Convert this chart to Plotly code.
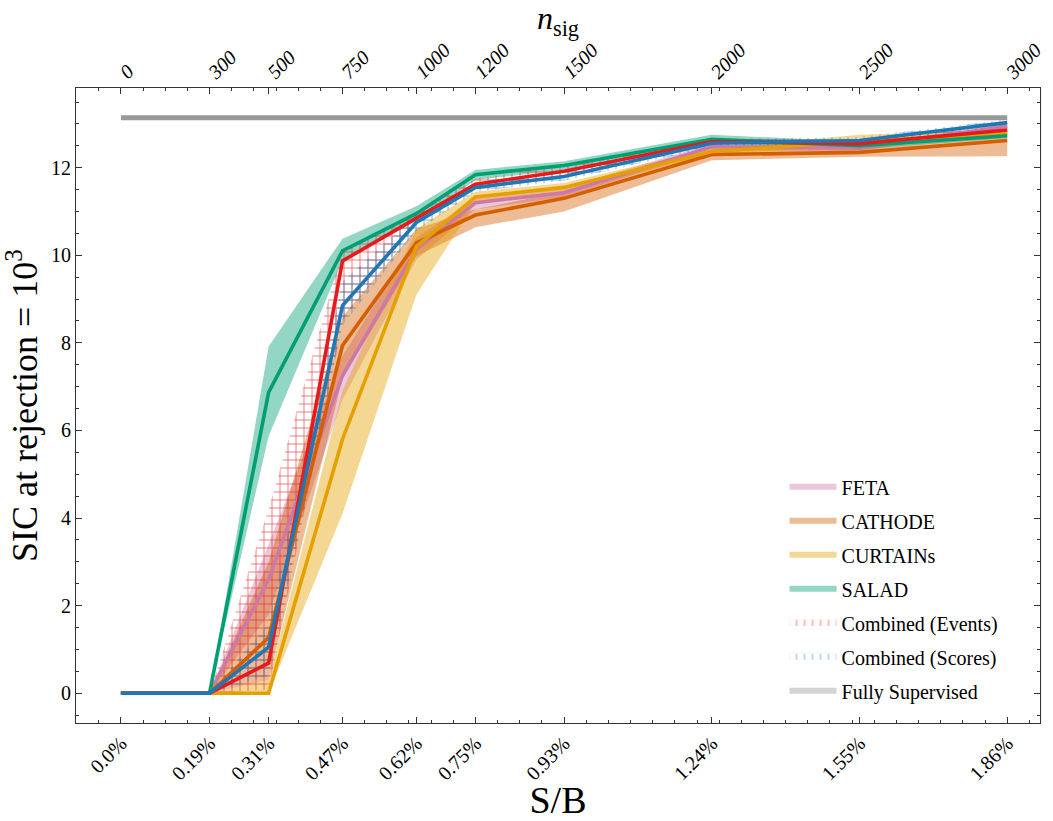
import plotly.graph_objects as go

# ---------------- data ----------------
n_sig = [0, 300, 500, 750, 1000, 1200, 1500, 2000, 2500, 3000]
sb_labels = ['0.0%', '0.19%', '0.31%', '0.47%', '0.62%', '0.75%', '0.93%', '1.24%', '1.55%', '1.86%']
nsig_labels = ['0', '300', '500', '750', '1000', '1200', '1500', '2000', '2500', '3000']

feta_mid = [0, 0, 2.6, 7.25, 10.14, 11.2, 11.43, 12.48, 12.45, 12.95]
feta_lo = [0, 0, 1.8, 6.7, 9.9, 11.05, 11.33, 12.4, 12.38, 12.88]
feta_hi = [0, 0, 3.4, 7.7, 10.4, 11.3, 11.53, 12.56, 12.52, 13.02]

cathode_mid = [0, 0, 1.27, 7.94, 10.28, 10.92, 11.3, 12.3, 12.35, 12.62]
cathode_lo = [0, 0, 0.3, 7.2, 9.98, 10.64, 11.0, 12.17, 12.25, 12.26]
cathode_hi = [0, 0, 3.0, 8.6, 10.6, 11.05, 11.45, 12.42, 12.45, 12.7]

curtains_mid = [0, 0, 0, 5.8, 10.2, 11.33, 11.55, 12.37, 12.6, 12.79]
curtains_lo = [0, 0, 0, 4.1, 9.1, 11.2, 11.45, 12.3, 12.5, 12.72]
curtains_hi = [0, 0, 0.3, 6.9, 10.6, 11.45, 11.65, 12.45, 12.75, 12.86]

salad_mid = [0, 0, 6.87, 10.1, 10.95, 11.84, 12.05, 12.65, 12.5, 12.73]
salad_lo = [0, 0, 5.87, 9.88, 10.78, 11.72, 11.95, 12.55, 12.42, 12.68]
salad_hi = [0, 0, 7.92, 10.38, 11.12, 11.95, 12.15, 12.75, 12.6, 12.8]

events_mid = [0, 0, 0.69, 9.87, 10.85, 11.62, 11.92, 12.6, 12.55, 12.86]
events_lo = [0, 0, 0.08, 8.5, 10.7, 11.5, 11.82, 12.52, 12.48, 12.78]
events_hi = [0, 0, 4.2, 10.1, 11.0, 11.75, 12.04, 12.68, 12.62, 12.94]

scores_mid = [0, 0, 1.05, 8.85, 10.75, 11.55, 11.8, 12.56, 12.62, 13.03]
scores_lo = [0, 0, 0.4, 8.4, 10.55, 11.45, 11.7, 12.48, 12.55, 12.96]
scores_hi = [0, 0, 1.6, 9.4, 10.92, 11.62, 11.88, 12.64, 12.7, 13.1]

supervised = [13.14] * len(n_sig)

FONT = "Liberation Serif"

series = [
    ("FETA", feta_mid, feta_lo, feta_hi, "#CC79A7", None),
    ("CATHODE", cathode_mid, cathode_lo, cathode_hi, "#D55E00", None),
    ("CURTAINs", curtains_mid, curtains_lo, curtains_hi, "#E69F00", None),
    ("SALAD", salad_mid, salad_lo, salad_hi, "#009E73", None),
    ("Combined (Events)", events_mid, events_lo, events_hi, "#E41A1C", "+"),
    ("Combined (Scores)", scores_mid, scores_lo, scores_hi, "#1F78B4", "+"),
]


def rgba(hexc, a):
    h = hexc.lstrip('#')
    r, g, b = int(h[0:2], 16), int(h[2:4], 16), int(h[4:6], 16)
    return f"rgba({r},{g},{b},{a})"


fig = go.Figure()

# bands
for name, mid, lo, hi, col, hatch in series:
    xs = n_sig + n_sig[::-1]
    ys = hi + lo[::-1]
    if hatch is None:
        fig.add_trace(go.Scatter(x=xs, y=ys, fill='toself', mode='none',
                                 fillcolor=rgba(col, 0.42), name=name,
                                 legendgroup=name, hoverinfo='skip'))
    else:
        fig.add_trace(go.Scatter(x=xs, y=ys, fill='toself', mode='none',
                                 fillcolor='rgba(0,0,0,0)',
                                 fillpattern=dict(shape=hatch, fgcolor=col, fgopacity=0.75,
                                                  bgcolor='rgba(0,0,0,0)', size=8,
                                                  solidity=0.18, fillmode='overlay'),
                                 name=name, legendgroup=name, hoverinfo='skip'))

# fully supervised legend patch (zero-height band)
fig.add_trace(go.Scatter(x=n_sig + n_sig[::-1], y=supervised + supervised[::-1],
                         fill='toself', mode='none',
                         fillcolor='rgba(160,160,160,0.45)', name='Fully Supervised',
                         legendgroup='sup', hoverinfo='skip'))

# lines
for name, mid, lo, hi, col, hatch in series:
    fig.add_trace(go.Scatter(x=n_sig, y=mid, mode='lines', line=dict(color=col, width=3.6),
                             showlegend=False, legendgroup=name))

fig.add_trace(go.Scatter(x=n_sig, y=supervised, mode='lines',
                         line=dict(color='#999999', width=5), showlegend=False,
                         legendgroup='sup'))

# invisible trace to activate top axis
fig.add_trace(go.Scatter(x=n_sig, y=supervised, mode='lines', xaxis='x2',
                         line=dict(width=0, color='rgba(0,0,0,0)'), showlegend=False,
                         hoverinfo='skip'))

xr = [-152, 3111]
minor_x = [v for v in range(-75, 3076, 75)]

fig.update_layout(
    width=1053, height=821,
    margin=dict(l=76, r=8, t=88, b=95),
    paper_bgcolor='white', plot_bgcolor='white',
    font=dict(family=FONT, color='black', size=20),
    showlegend=True,
    legend=dict(x=0.735, y=0.02, xanchor='left', yanchor='bottom',
                bgcolor='rgba(0,0,0,0)', font=dict(size=20, family=FONT),
                itemwidth=47, tracegroupgap=5),
    xaxis=dict(range=xr, tickmode='array', tickvals=n_sig, ticktext=sb_labels,
               tickangle=-45, ticks='inside', ticklen=6, tickcolor='#333',
               showline=True, linecolor='#333', linewidth=1, mirror=True,
               showgrid=False, zeroline=False,
               tickfont=dict(size=20, family=FONT),
               minor=dict(tickvals=minor_x, ticks='inside', ticklen=3, tickcolor='#333', showgrid=False),
               title=dict(text='S/B', font=dict(size=38, family=FONT), standoff=2)),
    xaxis2=dict(range=xr, overlaying='x', side='top', tickmode='array', tickvals=n_sig,
                ticktext=[f'<i>{t}</i>' for t in nsig_labels], tickangle=-45,
                ticks='inside', ticklen=6, tickcolor='#333', showgrid=False, zeroline=False,
                tickfont=dict(size=20, family=FONT),
                minor=dict(tickvals=minor_x, ticks='inside', ticklen=3, tickcolor='#333', showgrid=False),
                title=dict(text='<i>n</i><sub>sig</sub>', font=dict(size=32, family=FONT), standoff=2)),
    yaxis=dict(range=[-0.68, 13.82], tickmode='array', tickvals=[0, 2, 4, 6, 8, 10, 12],
               ticks='inside', ticklen=6, tickcolor='#333', showline=True, linecolor='#333',
               linewidth=1, mirror='ticks', showgrid=False, zeroline=False,
               tickfont=dict(size=20, family=FONT),
               minor=dict(dtick=0.5, tick0=0, ticks='inside', ticklen=3, tickcolor='#333', showgrid=False),
               title=dict(text='SIC at rejection = 10<sup>3</sup>', font=dict(size=36, family=FONT), standoff=6)),
)

fig.write_html("out.html")
